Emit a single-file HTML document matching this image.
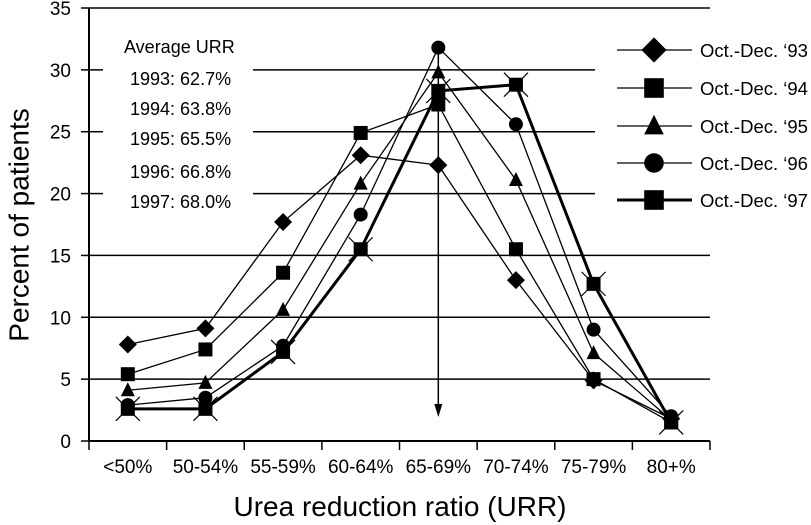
<!DOCTYPE html>
<html><head><meta charset="utf-8"><style>
body{margin:0;background:#fff;}
svg{display:block;font-family:"Liberation Sans",Arial,sans-serif;}
</style></head><body>
<svg id="chart" width="811" height="525" viewBox="0 0 811 525">
<g id="grid"></g>
<g id="axes"></g>
<g id="series"></g>
<g font-size="18" fill="#000">
<text x="124" y="53">Average URR</text>
<text x="130" y="85">1993: 62.7%</text>
<text x="130" y="115">1994: 63.8%</text>
<text x="130" y="145">1995: 65.5%</text>
<text x="130" y="178">1996: 66.8%</text>
<text x="130" y="208">1997: 68.0%</text>
</g>
<g id="legend"></g>
<text x="21" y="225" transform="rotate(-90 21 225)" text-anchor="middle" dominant-baseline="middle" font-size="28">Percent of patients</text>
<text x="400" y="516" text-anchor="middle" font-size="28">Urea reduction ratio (URR)</text>
</svg>
<script>
const categories=["<50%","50-54%","55-59%","60-64%","65-69%","70-74%","75-79%","80+%"];
const yTicks=[0,5,10,15,20,25,30,35];
const seriesNames=["Oct.-Dec. \u201893","Oct.-Dec. \u201894","Oct.-Dec. \u201895","Oct.-Dec. \u201896","Oct.-Dec. \u201897"];
const s93=[7.8,9.1,17.7,23.1,22.3,13.0,4.9,1.8];
const s94=[5.4,7.4,13.6,24.9,27.2,15.5,5.0,1.5];
const s95=[4.1,4.7,10.6,20.8,29.8,21.1,7.1,1.7];
const s96=[2.9,3.5,7.7,18.3,31.8,25.6,9.0,2.0];
const s97=[2.6,2.6,7.2,15.5,28.3,28.8,12.7,1.5];
const arrowCategory=4;

const NS="http://www.w3.org/2000/svg";
const X0=89,X1=710,Y0=441,Ytop=8,YMAX=35;
const band=(X1-X0)/categories.length;
function xs(i){return X0+band*(i+0.5);}
function ys(v){return Y0-(v/YMAX)*(Y0-Ytop);}
function el(tag,attrs,parent){const e=document.createElementNS(NS,tag);for(const k in attrs)e.setAttribute(k,attrs[k]);parent.appendChild(e);return e;}
const gridG=document.getElementById('grid'),axesG=document.getElementById('axes'),serG=document.getElementById('series'),legG=document.getElementById('legend');

yTicks.forEach(t=>{
  const y=ys(t);
  if(t>0&&t<35){
    const right=(t>=20)?595:X1;
    if(t>=20){
      const a=el('line',{x1:X0,x2:103,y1:y,y2:y,stroke:'#000','stroke-width':1.5},gridG);
      
      
      const b=el('line',{x1:253,x2:right,y1:y,y2:y,stroke:'#000','stroke-width':1.5},gridG);
      
      
    } else {
      const b=el('line',{x1:X0,x2:right,y1:y,y2:y,stroke:'#000','stroke-width':1.5},gridG);
      
      
    }
  }
  const tk=el('line',{x1:X0-8,x2:X0,y1:y,y2:y,stroke:'#000','stroke-width':1.5},axesG);
  
  
  const lb=el('text',{x:71,y:y+7,'text-anchor':'end','font-size':19},axesG);
  lb.textContent=t;
  
  
});
const topBorder=el('line',{x1:X0,x2:X1,y1:Ytop,y2:Ytop,stroke:'#000','stroke-width':1.5},axesG);


const yax=el('line',{x1:X0,x2:X0,y1:Ytop,y2:Y0,stroke:'#000','stroke-width':2},axesG);


const xax=el('line',{x1:X0,x2:X1,y1:Y0,y2:Y0,stroke:'#000','stroke-width':2},axesG);


for(let i=0;i<=categories.length;i++){
  const x=X0+band*i;
  const tk=el('line',{x1:x,x2:x,y1:Y0,y2:Y0+9,stroke:'#000','stroke-width':1.5},axesG);
  
  
}
categories.forEach((c,i)=>{
  const lb=el('text',{x:xs(i),y:473,'text-anchor':'middle','font-size':19},axesG);
  lb.textContent=c;
  
  
});

const ax=xs(arrowCategory);
const arr=el('line',{x1:ax,x2:ax,y1:ys(31.5),y2:410,stroke:'#000','stroke-width':1.5},serG);


const ah=el('polygon',{points:`${ax-4},404 ${ax+4},404 ${ax},417`,fill:'#000'},serG);



function marker(type,x,y,parent){
  let m;
  if(type==='diamond')m=el('polygon',{points:`${x},${y-9} ${x+9},${y} ${x},${y+9} ${x-9},${y}`,fill:'#000'},parent);
  else if(type==='square'||type==='squarex'){
    m=el('rect',{x:x-7,y:y-7,width:14,height:14,fill:'#000'},parent);
    if(type==='squarex'){
      const g=el('path',{d:`M${x-12},${y-12}L${x+12},${y+12}M${x+12},${y-12}L${x-12},${y+12}`,stroke:'#000','stroke-width':1.2},parent);
      
      
    }
  }
  else if(type==='triangle')m=el('polygon',{points:`${x},${y-8} ${x+7},${y+6} ${x-7},${y+6}`,fill:'#000'},parent);
  else m=el('circle',{cx:x,cy:y,r:7,fill:'#000'},parent);
  return m;
}
const allSeries=[s93,s94,s95,s96,s97];
const types=['diamond','square','triangle','circle','squarex'];
const widths=[1.3,1.3,1.3,1.3,3];
allSeries.forEach((s,k)=>{
  const g=el('g',{},serG);
  
  
  const p=el('polyline',{points:s.map((v,i)=>xs(i)+','+ys(v)).join(' '),fill:'none',stroke:'#000','stroke-width':widths[k]},g);
  
  
  s.forEach((v,i)=>{
    const m=marker(types[k],xs(i),ys(v),g);
    
    
  });
});
const ly=[50,88,126,163,200];
seriesNames.forEach((n,k)=>{
  const g=el('g',{},legG);
  
  
  const l=el('line',{x1:617,x2:692,y1:ly[k],y2:ly[k],stroke:'#000','stroke-width':k===4?3:1.3},g);
  
  
  const m=marker(k===4?'square':types[k],654,ly[k],g);
  m.setAttribute('transform',`translate(654 ${ly[k]}) scale(1.4) translate(-654 ${-ly[k]})`);
  
  
  const t=el('text',{x:700,y:ly[k]+7,'font-size':18.5},g);
  t.textContent=n;
  
  
});
</script>
</body></html>
